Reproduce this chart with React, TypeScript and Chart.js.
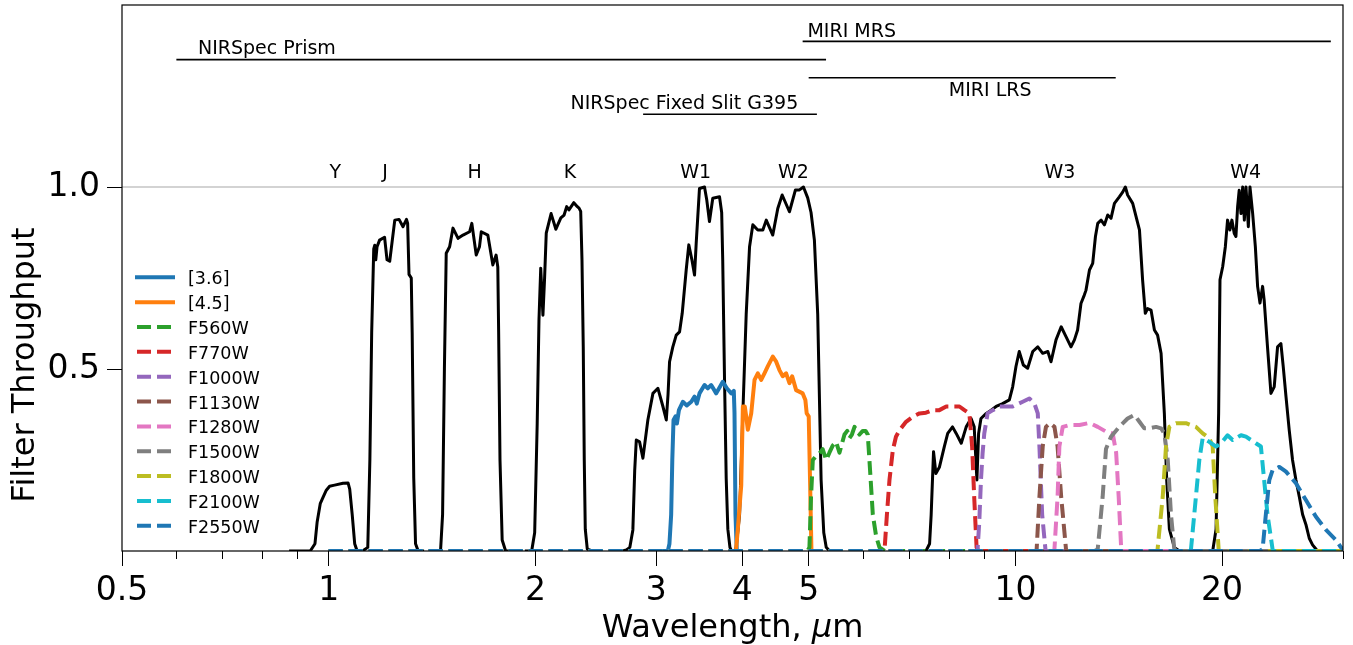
import React, { useEffect, useRef } from 'react';
import { Chart, registerables } from 'chart.js';

Chart.register(...registerables);

const FONT = "'DejaVu Sans', 'Liberation Sans', sans-serif";

// ---------- axes ----------
const xMin = 0.5;
const xMax = 30;
const yMin = 0;
const yMax = 1.5;
const xMajorTicks = [0.5, 1, 2, 3, 4, 5, 10, 20];
const xMinorTicks = [0.6, 0.7, 0.8, 0.9, 6, 7, 8, 9, 30];
const yTicks = [0.5, 1.0];
const xTitleMain = 'Wavelength, ';
const xTitleMu = 'µ';
const xTitleUnit = 'm';
const yTitle = 'Filter Throughput';

// ---------- black broad-band curves (Y J H K, W1-W4) ----------
const yBandWl = [0.88, 0.94, 0.955, 0.962, 0.972, 0.98, 0.992, 1.003, 1.02, 1.049, 1.067, 1.073, 1.082, 1.091, 1.1, 1.12];
const yBandThr = [0, 0, 0.02, 0.08, 0.13, 0.145, 0.167, 0.178, 0.181, 0.186, 0.187, 0.17, 0.1, 0.02, 0, 0];

const jBandWl = [1.12, 1.14, 1.148, 1.155, 1.163, 1.167, 1.171, 1.176, 1.186, 1.206, 1.216, 1.227, 1.248, 1.266, 1.283, 1.298, 1.303, 1.309, 1.319, 1.323, 1.33, 1.338, 1.35, 1.37];
const jBandThr = [0, 0.01, 0.25, 0.6, 0.83, 0.84, 0.8, 0.836, 0.854, 0.862, 0.8, 0.796, 0.909, 0.911, 0.891, 0.911, 0.9, 0.76, 0.75, 0.6, 0.2, 0.02, 0, 0];

const hBandWl = [1.42, 1.455, 1.465, 1.474, 1.483, 1.5, 1.517, 1.543, 1.569, 1.604, 1.616, 1.64, 1.658, 1.668, 1.705, 1.734, 1.753, 1.763, 1.768, 1.776, 1.789, 1.81, 1.84];
const hBandThr = [0, 0, 0.1, 0.5, 0.818, 0.836, 0.887, 0.859, 0.868, 0.877, 0.9, 0.813, 0.836, 0.877, 0.868, 0.786, 0.813, 0.78, 0.6, 0.25, 0.03, 0, 0];

const kBandWl = [1.94, 1.975, 1.995, 2.012, 2.024, 2.036, 2.051, 2.062, 2.074, 2.108, 2.142, 2.178, 2.202, 2.221, 2.238, 2.275, 2.302, 2.315, 2.328, 2.338, 2.348, 2.356, 2.364, 2.38, 2.42];
const kBandThr = [0, 0, 0.05, 0.35, 0.635, 0.777, 0.648, 0.745, 0.873, 0.927, 0.884, 0.915, 0.923, 0.946, 0.937, 0.957, 0.946, 0.942, 0.933, 0.8, 0.561, 0.25, 0.06, 0.005, 0];

const w1BandWl = [2.6, 2.68, 2.713, 2.745, 2.773, 2.79, 2.805, 2.836, 2.868, 2.916, 2.966, 3.016, 3.067, 3.102, 3.12, 3.136, 3.17, 3.207, 3.243, 3.272, 3.316, 3.345, 3.38, 3.41, 3.429, 3.467, 3.526, 3.553, 3.585, 3.625, 3.708, 3.735, 3.748, 3.771, 3.792, 3.813, 3.84, 3.86, 3.92];
const w1BandThr = [0, 0, 0.003, 0.01, 0.058, 0.22, 0.305, 0.3, 0.255, 0.36, 0.433, 0.447, 0.397, 0.36, 0.43, 0.52, 0.56, 0.593, 0.602, 0.653, 0.772, 0.841, 0.8, 0.758, 0.845, 0.996, 1.0, 0.964, 0.905, 0.969, 0.973, 0.93, 0.8, 0.47, 0.2, 0.06, 0.01, 0, 0];

const w2BandWl = [3.86, 3.9, 3.921, 3.966, 4.01, 4.055, 4.101, 4.146, 4.216, 4.288, 4.337, 4.433, 4.508, 4.575, 4.688, 4.783, 4.848, 4.913, 4.984, 5.04, 5.097, 5.154, 5.213, 5.26, 5.303, 5.362, 5.45];
const w2BandThr = [0, 0, 0.01, 0.1, 0.38, 0.65, 0.836, 0.896, 0.882, 0.882, 0.909, 0.868, 0.941, 0.978, 0.932, 0.992, 0.992, 1.0, 0.97, 0.93, 0.854, 0.65, 0.195, 0.05, 0.01, 0, 0];

const w3BandWl = [7.2, 7.41, 7.5, 7.54, 7.6, 7.66, 7.75, 7.88, 7.97, 8.1, 8.2, 8.34, 8.48, 8.62, 8.71, 8.79, 8.84, 8.91, 9.07, 9.22, 9.375, 9.58, 9.8, 9.91, 10.02, 10.13, 10.27, 10.42, 10.6, 10.78, 10.96, 11.15, 11.27, 11.46, 11.66, 11.85, 12.05, 12.19, 12.32, 12.46, 12.6, 12.67, 12.82, 12.96, 13.08, 13.18, 13.33, 13.48, 13.63, 13.78, 13.94, 14.17, 14.33, 14.46, 14.57, 14.82, 15.16, 15.32, 15.46, 15.58, 15.76, 15.94, 16.11, 16.3, 16.48, 16.61, 16.76, 17.04, 17.33, 17.6];
const w3BandThr = [0, 0, 0.02, 0.1, 0.273, 0.213, 0.23, 0.287, 0.323, 0.341, 0.323, 0.296, 0.341, 0.364, 0.341, 0.195, 0.323, 0.364, 0.378, 0.387, 0.397, 0.405, 0.415, 0.451, 0.507, 0.548, 0.511, 0.502, 0.548, 0.561, 0.543, 0.548, 0.52, 0.58, 0.616, 0.589, 0.561, 0.58, 0.607, 0.68, 0.703, 0.716, 0.772, 0.79, 0.864, 0.9, 0.909, 0.896, 0.923, 0.914, 0.955, 0.973, 0.986, 1.0, 0.978, 0.955, 0.882, 0.745, 0.653, 0.666, 0.662, 0.607, 0.593, 0.543, 0.378, 0.195, 0.06, 0.01, 0, 0];

const w4BandWl = [19.0, 19.38, 19.6, 19.77, 19.86, 20.04, 20.22, 20.37, 20.53, 20.67, 20.83, 20.95, 21.07, 21.18, 21.31, 21.43, 21.55, 21.67, 21.84, 21.96, 22.16, 22.36, 22.53, 22.71, 22.91, 23.03, 23.29, 23.56, 23.82, 24.09, 24.36, 24.55, 24.78, 25.05, 25.33, 25.62, 25.91, 26.2, 26.49, 26.79, 27.09, 27.54, 28.5];
const w4BandThr = [0, 0, 0.06, 0.378, 0.745, 0.781, 0.836, 0.909, 0.882, 0.909, 0.873, 0.864, 0.946, 0.991, 0.927, 1.0, 0.909, 1.0, 0.891, 1.0, 0.927, 0.836, 0.727, 0.681, 0.727, 0.69, 0.561, 0.433, 0.451, 0.561, 0.57, 0.507, 0.424, 0.332, 0.25, 0.195, 0.149, 0.1, 0.073, 0.035, 0.017, 0, 0];

// ---------- IRAC and MIRI filters ----------
const irac1Wl = [3.08, 3.118, 3.135, 3.153, 3.165, 3.178, 3.2, 3.214, 3.236, 3.279, 3.323, 3.373, 3.41, 3.436, 3.467, 3.526, 3.565, 3.606, 3.667, 3.749, 3.8, 3.857, 3.89, 3.899, 3.912, 3.929, 3.96];
const irac1Thr = [0, 0, 0.02, 0.1, 0.25, 0.36, 0.37, 0.35, 0.387, 0.41, 0.4, 0.41, 0.424, 0.405, 0.433, 0.456, 0.447, 0.456, 0.433, 0.465, 0.447, 0.433, 0.44, 0.38, 0.1, 0, 0];

const irac2Wl = [3.9, 3.92, 3.943, 3.965, 3.988, 4.01, 4.036, 4.055, 4.077, 4.124, 4.17, 4.216, 4.264, 4.311, 4.359, 4.433, 4.484, 4.533, 4.584, 4.636, 4.688, 4.731, 4.794, 4.901, 4.945, 4.967, 5.001, 5.025, 5.047, 5.07];
const irac2Thr = [0, 0.005, 0.06, 0.12, 0.18, 0.397, 0.397, 0.37, 0.333, 0.378, 0.47, 0.488, 0.47, 0.488, 0.507, 0.534, 0.52, 0.497, 0.48, 0.488, 0.461, 0.48, 0.442, 0.433, 0.415, 0.378, 0.37, 0.18, 0, 0];

const f560wWl = [4.98, 5.013, 5.04, 5.07, 5.12, 5.185, 5.24, 5.303, 5.36, 5.422, 5.48, 5.544, 5.6, 5.638, 5.69, 5.733, 5.78, 5.831, 5.88, 5.929, 5.995, 6.05, 6.096, 6.13, 6.2, 6.27, 6.34, 6.45];
const f560wThr = [0, 0.01, 0.15, 0.25, 0.26, 0.268, 0.28, 0.25, 0.27, 0.29, 0.3, 0.27, 0.3, 0.32, 0.33, 0.31, 0.32, 0.341, 0.33, 0.32, 0.33, 0.33, 0.32, 0.25, 0.1, 0.04, 0.01, 0];

const f770wWl = [6.4, 6.45, 6.5, 6.556, 6.63, 6.7, 6.78, 6.93, 7.09, 7.25, 7.41, 7.58, 7.75, 7.93, 8.1, 8.29, 8.43, 8.57, 8.65, 8.71, 8.78, 8.85];
const f770wThr = [0, 0.005, 0.1, 0.195, 0.277, 0.314, 0.332, 0.355, 0.369, 0.378, 0.38, 0.387, 0.387, 0.397, 0.397, 0.397, 0.387, 0.378, 0.287, 0.149, 0.01, 0];

const f1000wWl = [8.75, 8.81, 8.86, 8.91, 8.96, 9.01, 9.11, 9.27, 9.48, 9.69, 9.91, 10.25, 10.48, 10.66, 10.78, 10.84, 10.94, 11.06, 11.15];
const f1000wThr = [0, 0.005, 0.08, 0.195, 0.27, 0.323, 0.378, 0.387, 0.397, 0.397, 0.397, 0.41, 0.419, 0.405, 0.378, 0.287, 0.1, 0.005, 0];

const f1130wWl = [10.65, 10.74, 10.84, 10.96, 11.08, 11.23, 11.4, 11.52, 11.66, 11.85, 11.95];
const f1130wThr = [0, 0.005, 0.149, 0.287, 0.341, 0.351, 0.341, 0.287, 0.149, 0.005, 0];

const f1280wWl = [11.3, 11.4, 11.52, 11.59, 11.72, 11.99, 12.4, 12.82, 13.18, 13.55, 13.86, 14.02, 14.14, 14.26, 14.35];
const f1280wThr = [0, 0.005, 0.149, 0.287, 0.341, 0.346, 0.346, 0.352, 0.341, 0.328, 0.323, 0.27, 0.149, 0.005, 0];

const f1500wWl = [13.05, 13.18, 13.4, 13.55, 13.78, 14.17, 14.57, 14.9, 15.16, 15.41, 15.67, 16.03, 16.3, 16.48, 16.67, 16.85, 17.04, 17.2];
const f1500wThr = [0, 0.005, 0.149, 0.28, 0.314, 0.341, 0.364, 0.374, 0.355, 0.337, 0.337, 0.341, 0.337, 0.323, 0.25, 0.1, 0.005, 0];

const f1800wWl = [16.0, 16.11, 16.39, 16.57, 16.76, 17.14, 17.72, 18.32, 18.74, 19.16, 19.38, 19.55, 19.77, 19.9];
const f1800wThr = [0, 0.005, 0.149, 0.287, 0.341, 0.351, 0.351, 0.341, 0.323, 0.31, 0.287, 0.149, 0.005, 0];

const f2100wWl = [17.9, 18.02, 18.32, 18.53, 18.74, 19.16, 19.6, 19.93, 20.37, 20.72, 21.31, 21.67, 22.4, 22.78, 23.03, 23.29, 23.69, 23.85];
const f2100wThr = [0, 0.005, 0.149, 0.25, 0.31, 0.3, 0.287, 0.296, 0.318, 0.305, 0.318, 0.314, 0.296, 0.287, 0.195, 0.1, 0.005, 0];

const f2550wWl = [22.7, 22.91, 23.16, 23.43, 23.69, 24.23, 24.78, 25.62, 26.49, 27.4, 28.34, 29.3, 29.79, 30];
const f2550wThr = [0, 0.005, 0.1, 0.195, 0.222, 0.231, 0.218, 0.186, 0.14, 0.094, 0.058, 0.03, 0.01, 0.005];

const filterNames = ['[3.6]', '[4.5]', 'F560W', 'F770W', 'F1000W', 'F1130W', 'F1280W', 'F1500W', 'F1800W', 'F2100W', 'F2550W'];
const filterWl = [irac1Wl, irac2Wl, f560wWl, f770wWl, f1000wWl, f1130wWl, f1280wWl, f1500wWl, f1800wWl, f2100wWl, f2550wWl];
const filterThr = [irac1Thr, irac2Thr, f560wThr, f770wThr, f1000wThr, f1130wThr, f1280wThr, f1500wThr, f1800wThr, f2100wThr, f2550wThr];
const filterOnMiriGrid = [false, false, true, true, true, true, true, true, true, true, true];
const miriGridStart = 1.0;
const miriGridEnd = 30;

// ---------- instrument coverage ----------
const instrumentNames = ['NIRSpec Prism', 'MIRI MRS', 'MIRI LRS', 'NIRSpec Fixed Slit G395'];
const instrumentStart = [0.6, 4.9, 5.0, 2.87];
const instrumentEnd = [5.3, 28.8, 14.0, 5.14];
const instrumentLevel = [1.35, 1.4, 1.3, 1.2];
const instrumentLabelX = [0.645, 4.98, 8.0, 2.25];
const instrumentLabelY = [1.365, 1.413, 1.25, 1.213];

// ---------- band labels ----------
const bandNames = ['Y', 'J', 'H', 'K', 'W1', 'W2', 'W3', 'W4'];
const bandLabelX = [1.022, 1.208, 1.631, 2.245, 3.424, 4.751, 11.61, 21.65];
const bandLabelY = 1.025;
const unityLevel = 1.0;

// ---------- styles ----------
const filterColors = ['#1f77b4', '#ff7f0e', '#2ca02c', '#d62728', '#9467bd', '#8c564b', '#e377c2', '#7f7f7f', '#bcbd22', '#17becf', '#1f77b4'];
const filterDashed = [false, false, true, true, true, true, true, true, true, true, true];
const DASH = [14, 6];

const toPoints = (wl: number[], thr: number[]) => wl.map((x, i) => ({ x, y: thr[i] }));

function buildDatasets() {
  const list: any[] = [];
  list.push({
    label: 'unity',
    data: [{ x: xMin, y: unityLevel }, { x: xMax, y: unityLevel }],
    borderColor: '#d3d3d3',
    borderWidth: 2,
  });
  instrumentNames.forEach((n, i) => {
    list.push({
      label: n,
      data: [{ x: instrumentStart[i], y: instrumentLevel[i] }, { x: instrumentEnd[i], y: instrumentLevel[i] }],
      borderColor: '#000',
      borderWidth: 1.6,
    });
  });
  const bands = [
    [yBandWl, yBandThr], [jBandWl, jBandThr], [hBandWl, hBandThr], [kBandWl, kBandThr],
    [w1BandWl, w1BandThr], [w2BandWl, w2BandThr], [w3BandWl, w3BandThr], [w4BandWl, w4BandThr],
  ];
  bands.forEach(([wl, thr], i) => {
    list.push({
      label: 'band ' + bandNames[i],
      data: toPoints(wl, thr),
      borderColor: '#000',
      borderWidth: 3,
      borderCapStyle: 'square',
    });
  });
  filterNames.forEach((n, i) => {
    const pts = toPoints(filterWl[i], filterThr[i]);
    if (filterOnMiriGrid[i]) {
      if (filterWl[i][0] > miriGridStart) pts.unshift({ x: miriGridStart, y: 0 });
      if (filterWl[i][filterWl[i].length - 1] < miriGridEnd) pts.push({ x: miriGridEnd, y: 0 });
    }
    list.push({
      label: n,
      data: pts,
      borderColor: filterColors[i],
      borderWidth: 4,
      borderDash: filterDashed[i] ? DASH : [],
      borderCapStyle: filterDashed[i] ? 'butt' : 'square',
    });
  });
  return list.map((d, i) => ({
    ...d,
    order: -i,
    pointRadius: 0,
    pointHoverRadius: 0,
    tension: 0,
    fill: false,
    borderJoinStyle: 'round',
  }));
}

const decorPlugin = {
  id: 'decor',
  afterDatasetsDraw(chart: any) {
    const { ctx, scales } = chart;
    const xs = scales.x;
    const ys = scales.y;
    ctx.save();
    ctx.fillStyle = '#000';
    ctx.font = `19px ${FONT}`;
    ctx.textBaseline = 'alphabetic';
    ctx.textAlign = 'left';
    instrumentNames.forEach((n, i) => {
      ctx.fillText(n, xs.getPixelForValue(instrumentLabelX[i]), ys.getPixelForValue(instrumentLabelY[i]));
    });
    ctx.textAlign = 'center';
    bandNames.forEach((n, i) => {
      ctx.fillText(n, xs.getPixelForValue(bandLabelX[i]), ys.getPixelForValue(bandLabelY));
    });
    ctx.restore();
  },
  afterDraw(chart: any) {
    const { ctx, chartArea, scales } = chart;
    const { left, right, top, bottom } = chartArea;
    const xs = scales.x;
    ctx.save();
    // frame
    ctx.strokeStyle = '#000';
    ctx.lineWidth = 1.2;
    ctx.strokeRect(left, top, right - left, bottom - top);
    // minor ticks
    ctx.lineWidth = 1;
    xMinorTicks.forEach((v) => {
      const px = Math.round(xs.getPixelForValue(v)) + 0.5;
      ctx.beginPath();
      ctx.moveTo(px, bottom);
      ctx.lineTo(px, bottom + 8);
      ctx.stroke();
    });
    // legend
    const rowY0 = top + 272.3;
    const rowStep = 24.85;
    filterNames.forEach((n, i) => {
      const y = rowY0 + i * rowStep;
      ctx.beginPath();
      ctx.strokeStyle = filterColors[i];
      ctx.lineWidth = 4;
      ctx.setLineDash(filterDashed[i] ? DASH : []);
      ctx.lineCap = filterDashed[i] ? 'butt' : 'square';
      ctx.moveTo(left + 15, y);
      ctx.lineTo(left + 51, y);
      ctx.stroke();
      ctx.setLineDash([]);
      ctx.fillStyle = '#000';
      ctx.font = `17.5px ${FONT}`;
      ctx.textAlign = 'left';
      ctx.textBaseline = 'alphabetic';
      ctx.fillText(n, left + 66, y + 7);
    });
    // x title
    ctx.fillStyle = '#000';
    ctx.textBaseline = 'alphabetic';
    ctx.textAlign = 'left';
    const fN = `32px ${FONT}`;
    const fI = `italic 32px ${FONT}`;
    ctx.font = fN;
    const w1 = ctx.measureText(xTitleMain).width;
    const w3 = ctx.measureText(xTitleUnit).width;
    ctx.font = fI;
    const w2 = ctx.measureText(xTitleMu).width;
    let sx = (left + right) / 2 - (w1 + w2 + w3) / 2;
    const by = bottom + 85.5;
    ctx.font = fN;
    ctx.fillText(xTitleMain, sx, by);
    sx += w1;
    ctx.font = fI;
    ctx.fillText(xTitleMu, sx, by);
    sx += w2;
    ctx.font = fN;
    ctx.fillText(xTitleUnit, sx, by);
    // y title
    ctx.translate(33.5, top + 360);
    ctx.rotate(-Math.PI / 2);
    ctx.textAlign = 'center';
    ctx.font = fN;
    ctx.fillText(yTitle, 0, 0);
    ctx.restore();
  },
};

export default function App() {
  const ref = useRef<HTMLCanvasElement>(null);
  useEffect(() => {
    const canvas = ref.current;
    if (!canvas) return;
    const chart = new Chart(canvas, {
      type: 'line',
      data: { datasets: buildDatasets() },
      options: {
        animation: false,
        responsive: false,
        devicePixelRatio: 1,
        events: [],
        parsing: false as any,
        layout: { padding: { left: 0, right: 10, top: 5, bottom: 0 } },
        plugins: { legend: { display: false }, tooltip: { enabled: false } },
        scales: {
          x: {
            type: 'logarithmic',
            position: 'bottom',
            min: xMin,
            max: xMax,
            afterBuildTicks: (s: any) => {
              s.ticks = xMajorTicks.map((v) => ({ value: v }));
            },
            afterFit: (s: any) => {
              s.height = 94;
              s.paddingLeft = 0;
              s.paddingRight = 0;
            },
            ticks: {
              autoSkip: false,
              maxRotation: 0,
              minRotation: 0,
              padding: 6,
              color: '#000',
              font: { family: FONT, size: 33 },
              callback: (v: any) => String(v),
            },
            grid: { drawOnChartArea: false, drawTicks: true, tickLength: 15, tickColor: '#000', tickWidth: 1 },
            border: { display: false },
          },
          y: {
            type: 'linear',
            min: yMin,
            max: yMax,
            afterBuildTicks: (s: any) => {
              s.ticks = yTicks.map((v) => ({ value: v }));
            },
            afterFit: (s: any) => {
              s.width = 122;
              s.paddingTop = 0;
              s.paddingBottom = 0;
            },
            ticks: {
              padding: 7,
              color: '#000',
              font: { family: FONT, size: 33 },
              callback: (v: any) => Number(v).toFixed(1),
            },
            grid: { drawOnChartArea: false, drawTicks: true, tickLength: 15, tickColor: '#000', tickWidth: 1 },
            border: { display: false },
          },
        },
      } as any,
      plugins: [decorPlugin],
    });
    return () => chart.destroy();
  }, []);
  return (
    <div style={{ position: 'absolute', left: 0, top: 0, width: 1353, height: 645, background: '#fff' }}>
      <canvas ref={ref} width={1353} height={645} style={{ display: 'block', width: 1353, height: 645 }} />
    </div>
  );
}
